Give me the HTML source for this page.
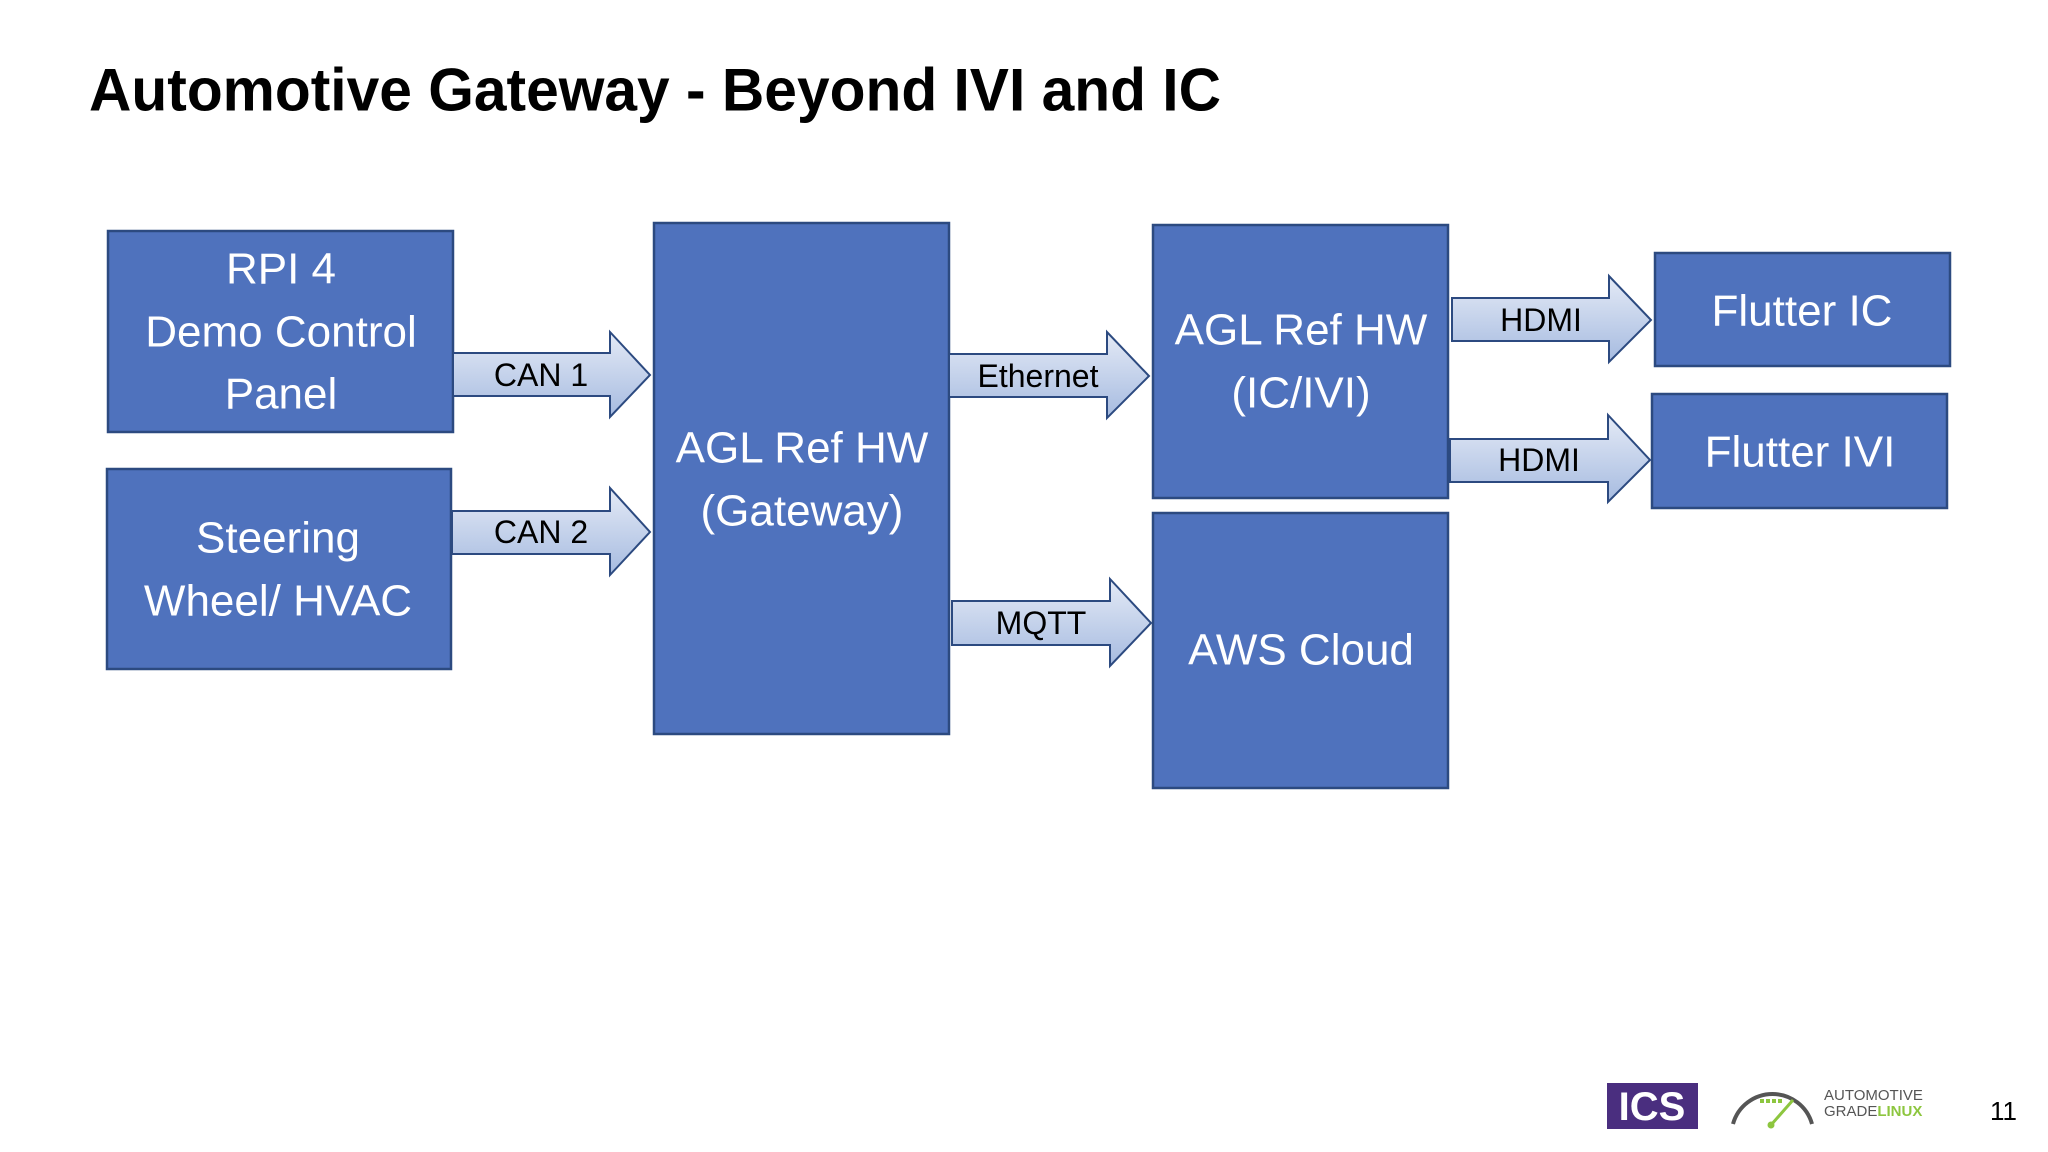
<!DOCTYPE html>
<html><head><meta charset="utf-8"><style>
html,body{margin:0;padding:0;background:#fff;}
svg{display:block;}
.bt{font-family:"Liberation Sans",sans-serif;fill:#fff;font-size:44px;text-anchor:middle;dominant-baseline:central;}
.al{font-family:"Liberation Sans",sans-serif;fill:#000;font-size:32px;text-anchor:middle;dominant-baseline:central;}
</style></head><body>
<svg width="2048" height="1152" viewBox="0 0 2048 1152" xmlns="http://www.w3.org/2000/svg">
<defs>
<linearGradient id="g" x1="0" y1="0" x2="0" y2="1">
<stop offset="0" stop-color="#e4eaf6"/><stop offset="1" stop-color="#a6bbe0"/>
</linearGradient>
</defs>
<text x="89" y="90" font-family="Liberation Sans,sans-serif" font-weight="bold" font-size="60" fill="#000" dominant-baseline="central" textLength="1132" lengthAdjust="spacingAndGlyphs">Automotive Gateway - Beyond IVI and IC</text>

<g fill="#4f72bd" stroke="#2c4a80" stroke-width="2.5">
<rect x="108" y="231" width="345" height="201"/>
<rect x="107" y="469" width="344" height="200"/>
<rect x="654" y="223" width="295" height="511"/>
<rect x="1153" y="225" width="295" height="273"/>
<rect x="1153" y="513" width="295" height="275"/>
<rect x="1655" y="253" width="295" height="113"/>
<rect x="1652" y="394" width="295" height="114"/>
</g>

<g fill="url(#g)" stroke="#2c4a80" stroke-width="2">
<polygon points="453,353 610,353 610,332 650,375 610,417 610,396 453,396"/>
<polygon points="452,511 610,511 610,488 650,532 610,575 610,554 452,554"/>
<polygon points="949,354 1107,354 1107,332 1149,376 1107,418 1107,397 949,397"/>
<polygon points="952,601 1110,601 1110,579 1151,623 1110,666 1110,645 952,645"/>
<polygon points="1452,298 1609,298 1609,276 1651,320 1609,362 1609,341 1452,341"/>
<polygon points="1450,439 1608,439 1608,415 1650,460 1608,502 1608,482 1450,482"/>
</g>

<text class="bt" x="281" y="269">RPI 4</text>
<text class="bt" x="281" y="332">Demo Control</text>
<text class="bt" x="281" y="394">Panel</text>
<text class="bt" x="278" y="538">Steering</text>
<text class="bt" x="278" y="601">Wheel/ HVAC</text>
<text class="bt" x="802" y="448">AGL Ref HW</text>
<text class="bt" x="802" y="511">(Gateway)</text>
<text class="bt" x="1301" y="330">AGL Ref HW</text>
<text class="bt" x="1301" y="393">(IC/IVI)</text>
<text class="bt" x="1301" y="650">AWS Cloud</text>
<text class="bt" x="1802" y="311">Flutter IC</text>
<text class="bt" x="1800" y="452">Flutter IVI</text>

<text class="al" x="541" y="375">CAN 1</text>
<text class="al" x="541" y="532">CAN 2</text>
<text class="al" x="1038" y="376">Ethernet</text>
<text class="al" x="1041" y="623">MQTT</text>
<text class="al" x="1541" y="320">HDMI</text>
<text class="al" x="1539" y="460">HDMI</text>

<rect x="1607" y="1083" width="91" height="46" fill="#4a2e7f"/>
<text x="1652" y="1107" font-family="Liberation Sans,sans-serif" font-weight="bold" font-size="40" fill="#fff" text-anchor="middle" dominant-baseline="central">ICS</text>
<path d="M1733,1124 A41,41 0 0 1 1812,1124" fill="none" stroke="#555" stroke-width="4"/>
<line x1="1760" y1="1101" x2="1784" y2="1101" stroke="#8dc63f" stroke-width="4" stroke-dasharray="4,2"/>
<line x1="1771" y1="1125" x2="1793" y2="1100" stroke="#8dc63f" stroke-width="3"/>
<circle cx="1771" cy="1125" r="3.5" fill="#8dc63f"/>
<text x="1824" y="1100" font-family="Liberation Sans,sans-serif" font-size="15" fill="#555">AUTOMOTIVE</text>
<text x="1824" y="1116" font-family="Liberation Sans,sans-serif" font-size="15" fill="#555">GRADE<tspan fill="#8dc63f" font-weight="bold">LINUX</tspan></text>
<text x="1990" y="1111" font-family="Liberation Sans,sans-serif" font-size="26" fill="#000" dominant-baseline="central">11</text>
</svg>
</body></html>
